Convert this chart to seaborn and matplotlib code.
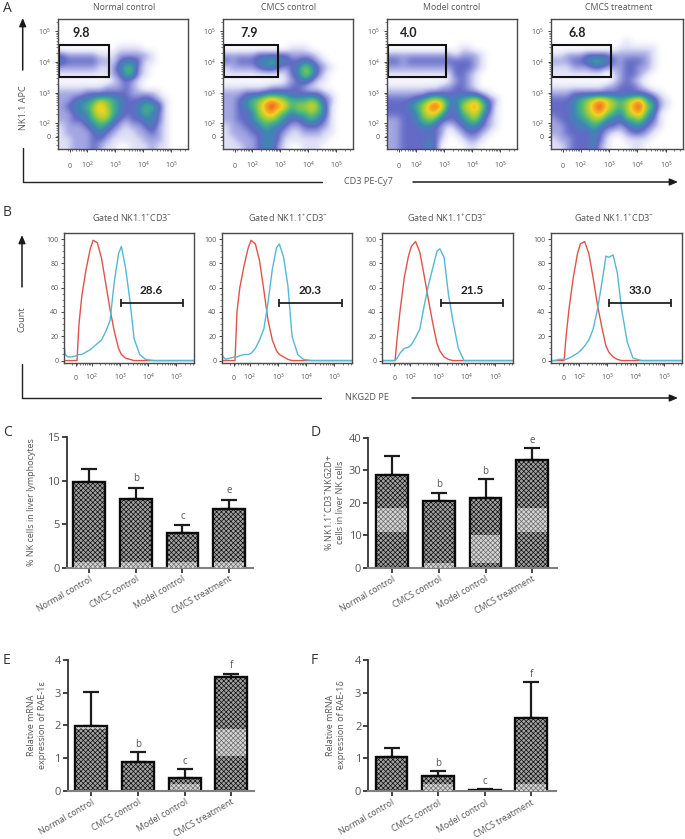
import numpy as np
import pandas as pd
import matplotlib
matplotlib.use('Agg')
import matplotlib.pyplot as plt
from matplotlib.colors import LinearSegmentedColormap
from matplotlib.patches import Rectangle
import seaborn as sns

sns.set_theme(style="white")
plt.rcParams['font.family'] = ['Open Sans', 'DejaVu Sans']
plt.rcParams['mathtext.default'] = 'regular'
plt.rcParams['hatch.linewidth'] = 0.5

W, H = 685, 839
TXT = '#555555'

groups = ['Normal control', 'CMCS control', 'Model control', 'CMCS treatment']

# === Panel A: density levels (0-9) ===
dens_normal = [
    "00000000000000000000", "00000000000000000000", "00000000000000000000",
    "00000000000000000000", "00000000011110000000", "32222211122222100000",
    "43333322134431100000", "22222211245521000000", "11111111235521000000",
    "00000000123210000000", "11111112223210000000", "22223333333222210000",
    "22344566543334321000", "23445686543345541000", "22344677543345431000",
    "22334566432334431000", "12223454321223421000", "12222343211122321000",
    "11222332111112221000", "11222321100111211000",
]
dens_cmcs = [
    "00000000000000000000", "00000000000000000000", "00000000000000000000",
    "00000000000000000000", "00000000001110000000", "22222333332222100000",
    "32333445443343210000", "12222344323465321000", "11111111113465310000",
    "00000000012343110000", "11111112223321100000", "22233344443333321000",
    "22345678765556532000", "22345689875667641000", "22334678654556541000",
    "22334566543345431000", "12233454432233321000", "12223344321122211000",
    "11222344311111110000", "11122344210011100000",
]
dens_model = [
    "00000000000000000000", "00000000000000000000", "00000000000000000000",
    "00000000000000000000", "00000000000110000000", "22222222221222100000",
    "33233333333332100000", "22222222223332100000", "11111111113321000000",
    "00000000012321000000", "11111111223321000000", "22222233333333210000",
    "33334567644567532000", "33345689743678641000", "33334677533567531000",
    "22334565333456421000", "22333443212344321000", "22333333201233210000",
    "22333343100122100000", "22333343000011000000",
]
dens_treat = [
    "00000000000000000000", "00000000000000000000", "00000000000000000000",
    "00000000000100000000", "00000000001111110000", "11222333322222210000",
    "22233455432333210000", "11122233222332210000", "11111111012332100000",
    "00000000012321000000", "11111111223332100000", "22233333333333321000",
    "33345678765678542100", "33345689765689652100", "33345678654678541000",
    "23344566443556431000", "22334454332344321000", "22333343211233210000",
    "12233343100111100000", "11233342100011000000",
]
nk_pct = ['9.8', '7.9', '4.0', '6.8']
gate_right = [2.78, 2.91, 3.07, 3.06]

# === Panel B: histograms, x in decades of the display scale ===
hist_x = [1.02, 1.06, 1.15, 1.3, 1.48, 1.55, 1.65, 1.8, 1.95, 2.05, 2.2, 2.35,
          2.5, 2.65, 2.8, 2.95, 3.05, 3.2, 3.35, 3.5, 3.7, 3.9, 4.2, 5.62]
red_normal = [0, 0, 0, 0, 0, 30, 53, 75, 92, 99, 97, 84, 63, 42, 24, 10, 5, 2, 1, 0, 0, 0, 0, 0]
red_cmcs = [0, 0, 0, 0, 0, 40, 60, 78, 93, 99, 96, 82, 58, 33, 17, 8, 5, 3, 1, 0, 0, 0, 0, 0]
red_model = [0, 0, 0, 0, 0, 18, 40, 68, 86, 94, 98, 89, 70, 50, 31, 14, 8, 3, 1, 0, 0, 0, 0, 0]
red_treat = [0, 0, 0, 0, 0, 20, 42, 68, 88, 96, 98, 88, 68, 46, 28, 12, 7, 3, 1, 0, 0, 0, 0, 0]
blue_normal = [13, 5, 3, 3, 4, 5, 5, 7, 9, 11, 14, 17, 24, 33, 65, 88, 94, 76, 50, 18, 5, 1, 0, 0]
blue_cmcs = [5, 3, 1, 2, 3, 3, 4, 5, 5, 6, 10, 17, 26, 48, 75, 93, 96, 85, 62, 20, 5, 1, 0, 0]
blue_model = [0, 0, 0, 0, 0, 2, 6, 10, 11, 13, 19, 26, 45, 62, 76, 90, 92, 85, 55, 34, 10, 0, 0, 0]
blue_treat = [0, 0, 0, 1, 1, 1, 2, 4, 6, 8, 12, 17, 26, 42, 63, 86, 85, 87, 72, 42, 15, 2, 0, 0]
nkg2d_pct = ['28.6', '20.3', '21.5', '33.0']
bar_lo = [3.02, 3.05, 3.10, 3.07]
bar_hi = [5.22, 5.25, 5.28, 5.23]

# === Panels C-F: bar heights, top of error bars, letters, pale moire bands ===
c_vals = [9.9, 7.9, 4.0, 6.8]
c_tops = [11.4, 9.2, 4.9, 7.8]
c_marks = ['', 'b', 'c', 'e']
c_band_lo = [0, 0, 0, 0]
c_band_hi = [0.6, 0.6, 0.6, 0.6]

d_vals = [28.5, 20.4, 21.6, 33.1]
d_tops = [34.3, 23.1, 27.2, 36.8]
d_marks = ['', 'b', 'b', 'e']
d_band_lo = [11, 0, 1.5, 11]
d_band_hi = [18.5, 1.5, 10, 18.5]

e_vals = [1.99, 0.88, 0.38, 3.47]
e_tops = [3.01, 1.17, 0.66, 3.58]
e_marks = ['', 'b', 'c', 'f']
e_band_lo = [1.88, 0, 0.03, 1.05]
e_band_hi = [1.96, 0, 0.22, 1.9]

f_vals = [1.03, 0.46, 0.04, 2.24]
f_tops = [1.32, 0.61, 0.06, 3.34]
f_marks = ['', 'b', 'c', 'f']
f_band_lo = [0, 0, 0, 0]
f_band_hi = [0, 0.2, 0, 0.2]

fig = plt.figure(figsize=(W / 100, H / 100), dpi=100)


def axes_px(x0, y0, x1, y1):
    return fig.add_axes([x0 / W, 1 - y1 / H, (x1 - x0) / W, (y1 - y0) / H])


# pseudocolour levels of the flow plots
flow_cmap = LinearSegmentedColormap.from_list('flow', [
    '#ffffff', '#dfe0f6', '#a2a5e2', '#636bc6', '#3f86b4',
    '#45b483', '#9ccc3c', '#efd422', '#f59022', '#e8341f'])


def decade_ticks(ax, lo, hi, axis):
    minors = np.log10(np.outer(10.0 ** np.arange(1, 6), np.arange(2, 10)).ravel())
    minors = minors[(minors > lo) & (minors < hi)]
    if axis == 'x':
        ax.set_xticks(minors, minor=True)
    else:
        ax.set_yticks(minors, minor=True)


def flow_style(ax):
    for s in ax.spines.values():
        s.set_color('#4a4a4a')
        s.set_linewidth(1.0)
    for lbl in ax.get_xticklabels():
        lbl.set_verticalalignment('baseline')


# --- A ---
a_boxes = [(58, 19, 188, 149), (223, 19, 353, 149), (387, 19, 517, 149), (551, 19, 683, 149)]
a_grids = [dens_normal, dens_cmcs, dens_model, dens_treat]
a_pos = [81, 249, 409, 577]
a_xl, a_xr, a_yb, a_yt = 0.96, 5.6, 1.17, 5.4
for i, box in enumerate(a_boxes):
    ax = axes_px(*box)
    grid = np.array([[int(c) for c in row] for row in a_grids[i]], dtype=float)
    ax.imshow(grid, cmap=flow_cmap, vmin=0, vmax=9, aspect='auto', interpolation='bicubic',
              extent=(a_xl, a_xr, a_yb, a_yt), origin='upper')
    ax.set_xlim(a_xl, a_xr)
    ax.set_ylim(a_yb, a_yt)
    ax.add_patch(Rectangle((a_xl + 0.04, 3.51), gate_right[i] - a_xl - 0.04, 1.06,
                           fill=False, ec='#111111', lw=1.5))
    ax.set_xticks([1.38, 2, 3, 4, 5], ['0', '$10^{2}$', '$10^{3}$', '$10^{4}$', '$10^{5}$'])
    ax.set_yticks([1.57, 2, 3, 4, 5], ['0', '$10^{2}$', '$10^{3}$', '$10^{4}$', '$10^{5}$'])
    decade_ticks(ax, a_xl, a_xr, 'x')
    decade_ticks(ax, a_yb, a_yt, 'y')
    ax.tick_params(axis='x', which='major', length=2, width=0.7, pad=12, labelsize=5, labelcolor=TXT, bottom=True, color='#444444')
    ax.tick_params(axis='y', which='major', length=2, width=0.7, pad=3, labelsize=5, labelcolor=TXT, left=True, color='#444444')
    ax.tick_params(which='minor', length=1.2, width=0.5, bottom=True, left=True, color='#444444')
    flow_style(ax)

# --- B ---
b_boxes = [(64, 233, 194, 363), (222, 233, 352, 363), (382, 233, 513, 363), (551, 233, 682, 363)]
reds = [red_normal, red_cmcs, red_model, red_treat]
blues = [blue_normal, blue_cmcs, blue_model, blue_treat]
for i, box in enumerate(b_boxes):
    ax = axes_px(*box)
    sns.lineplot(x=hist_x, y=reds[i], color='#e0534a', linewidth=1.0, ax=ax, errorbar=None)
    sns.lineplot(x=hist_x, y=blues[i], color='#55b8d6', linewidth=1.0, ax=ax, errorbar=None)
    ax.set_xlim(1.02, 5.62)
    ax.set_ylim(-2, 105)
    ax.plot([bar_lo[i], bar_hi[i]], [47, 47], color='#222222', lw=1.3, marker='|', ms=6, mew=1.3)
    ax.text((bar_lo[i] + bar_hi[i]) / 2, 58, nkg2d_pct[i], ha='center', va='center',
            fontsize=8.5, fontweight='bold', color='#222222', family=['Lato', 'DejaVu Sans'])
    ax.set_xticks([1.45, 2, 3, 4, 5], ['0', '$10^{2}$', '$10^{3}$', '$10^{4}$', '$10^{5}$'])
    ax.set_yticks([0, 20, 40, 60, 80, 100])
    ax.set_yticks(np.arange(0, 105, 5), minor=True)
    decade_ticks(ax, 1.02, 5.62, 'x')
    ax.tick_params(axis='x', which='major', length=2, width=0.7, pad=10.5, labelsize=5, labelcolor=TXT, bottom=True, color='#444444')
    ax.tick_params(axis='y', which='major', length=2, width=0.7, pad=2, labelsize=5, labelcolor=TXT, left=True, color='#444444')
    ax.tick_params(which='minor', length=1.2, width=0.5, bottom=True, left=True, color='#444444')
    ax.grid(False)
    flow_style(ax)


# --- C-F ---
def bar_panel(box, vals, tops, marks, band_lo, band_hi, ymax, yticks, xlim, mark_gap):
    ax = axes_px(*box)
    df = pd.DataFrame({'group': groups, 'value': vals})
    # whiskers go under the bars, only the upper half shows
    ax.errorbar(range(4), vals, yerr=[np.zeros(4), np.array(tops) - np.array(vals)],
                fmt='none', ecolor='#1c1c1c', elinewidth=1.6, capsize=6, capthick=1.6, zorder=1)
    sns.barplot(data=df, x='group', y='value', order=groups, color='#a2a2a2', saturation=1,
                edgecolor='#0c0c0c', linewidth=1.7, width=0.68, hatch='xxxxxxx',
                errorbar=None, zorder=2, ax=ax)
    for j in range(4):
        if band_hi[j] > band_lo[j]:
            ax.bar(j, band_hi[j] - band_lo[j], bottom=band_lo[j], width=0.64, color='#d6d6d6',
                   edgecolor='#6a6a6a', linewidth=0, hatch='xxxxxxx', zorder=3)
        if marks[j]:
            ax.text(j, tops[j] + mark_gap, marks[j], ha='center', va='bottom',
                    fontsize=7, color=TXT, zorder=4)
    ax.set_xlim(*xlim)
    ax.set_ylim(0, ymax)
    ax.set_xlabel('')
    ax.set_ylabel('')
    ax.set_yticks(yticks)
    ax.set_xticks(range(4))
    ax.set_xticklabels(groups, rotation=30, ha='right', rotation_mode='anchor', fontsize=6.3, color=TXT)
    ax.tick_params(axis='y', length=3.5, width=1.2, pad=1.5, labelsize=8, labelcolor=TXT, left=True, color='#222222')
    ax.tick_params(axis='x', length=3.5, width=1.2, pad=1.5, bottom=True, color='#222222')
    sns.despine(ax=ax)
    ax.spines['left'].set_color('#333333')
    ax.spines['left'].set_linewidth(1.3)
    ax.spines['bottom'].set_color('#808080')
    ax.spines['bottom'].set_linewidth(1.5)
    return ax


bar_panel((66.7, 437.3, 253, 567.7), c_vals, c_tops, c_marks, c_band_lo, c_band_hi,
          15, [0, 5, 10, 15], (-0.48, 3.51), 0.4)
bar_panel((368.3, 437.7, 557, 567.7), d_vals, d_tops, d_marks, d_band_lo, d_band_hi,
          40, [0, 10, 20, 30, 40], (-0.51, 3.53), 0.7)
bar_panel((67.7, 660, 254.3, 790.7), e_vals, e_tops, e_marks, e_band_lo, e_band_hi,
          4, [0, 1, 2, 3, 4], (-0.50, 3.49), 0.07)
bar_panel((368.3, 660.3, 556, 791), f_vals, f_tops, f_marks, f_band_lo, f_band_hi,
          4, [0, 1, 2, 3, 4], (-0.50, 3.53), 0.07)

# --- overlay in picture pixels: titles, big arrows, axis captions, panel letters ---
ov = fig.add_axes([0, 0, 1, 1], zorder=10)
ov.set_xlim(0, W)
ov.set_ylim(H, 0)
ov.axis('off')


def arrow(x0, y0, x1, y1):
    ov.annotate('', xy=(x1, y1), xytext=(x0, y0),
                arrowprops=dict(arrowstyle='-|>,head_width=0.17,head_length=0.4', color='#1a1a1a',
                                lw=1.1, shrinkA=0, shrinkB=0))


for letter, x, y in [('A', 3, 8), ('B', 3, 212), ('C', 3, 433), ('D', 311, 433), ('E', 3, 660), ('F', 311, 660)]:
    ov.text(x, y, letter, fontsize=10, color='#333333', va='center', ha='left')

for x, name in zip([124, 289, 452, 619], groups):
    ov.text(x, 8, name, fontsize=6.3, color=TXT, ha='center', va='center')
for x, val in zip(a_pos, nk_pct):
    ov.text(x, 33, val, fontsize=9, fontweight='bold', color='#222222', ha='center', va='center',
            family=['Lato', 'DejaVu Sans'])
for x in [132, 288, 447, 614]:
    ov.text(x, 218, 'Gated NK1.1$^{+}$CD3$^{-}$', fontsize=6.6, color=TXT, ha='center', va='center')

# A big arrows
arrow(22.7, 70, 22.7, 18)
ov.plot([22.7, 22.7, 322], [148, 182, 182], color='#222222', lw=1.0)
arrow(413, 182, 678, 182)
ov.text(24, 108, 'NK1.1 APC', rotation=90, fontsize=6.6, color=TXT, ha='center', va='center')
ov.text(368, 182, 'CD3 PE-Cy7', fontsize=6.6, color=TXT, ha='center', va='center')

# B big arrows
arrow(22, 287, 22, 235)
ov.plot([22, 22, 321], [364, 398, 398], color='#222222', lw=1.0)
arrow(412, 398, 678, 398)
ov.text(22, 319, 'Count', rotation=90, fontsize=6.6, color=TXT, ha='center', va='center')
ov.text(367, 398, 'NKG2D PE', fontsize=6.6, color=TXT, ha='center', va='center')

# y captions of the bar panels
ov.text(32, 502, '% NK cells in liver lymphocytes', rotation=90, fontsize=6.5, color=TXT, ha='center', va='center')
ov.text(334, 502, '% NK1.1$^{+}$CD3$^{-}$NKG2D+\ncells in liver NK cells', rotation=90, fontsize=6.5,
        color=TXT, ha='center', va='center', multialignment='center', linespacing=1.15)
ov.text(37, 725, 'Relative mRNA\nexpression of RAE-1ε', rotation=90, fontsize=6.5, color=TXT,
        ha='center', va='center', multialignment='center', linespacing=1.15)
ov.text(336, 725, 'Relative mRNA\nexpression of RAE-1δ', rotation=90, fontsize=6.5, color=TXT,
        ha='center', va='center', multialignment='center', linespacing=1.15)

fig.savefig('out.png', dpi=100)
